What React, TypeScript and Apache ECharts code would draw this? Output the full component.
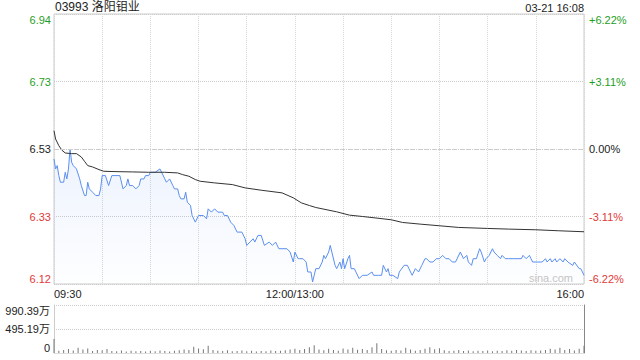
import React, { useEffect, useRef } from "react";
import * as echarts from "echarts";

const PREV_CLOSE = 6.53;
const PCT_LIMIT = 6.22;
const PCT_STEP = 3.11;
const VOL_MAX = 990.39;
const VOL_STEP = 495.195;
const TITLE = "03993 洛阳钼业";
const DATE_TEXT = "03-21 16:08";
const WATERMARK = "sina.com";
const volTickLabels = ["0", "495.19万", "990.39万"];
const timeTicks: Record<number, string> = { 0: "09:30", 150: "12:00/13:00", 330: "16:00" };

const priceMinutes = [
  0, 1, 2, 3, 4, 6, 7, 8, 9, 10, 11, 12, 14, 16, 17, 19, 20, 21, 22, 24, 26, 28, 29, 30, 32, 34, 36, 38, 41, 43,
  45, 46, 47, 49, 51, 53, 54, 56, 57, 59, 60, 63, 66, 67, 69, 70, 72, 74, 75, 77, 78, 79, 81, 82, 83, 85, 86, 88,
  90, 93, 95, 96, 98, 100, 102, 105, 106, 108, 110, 112, 114, 117, 119, 120, 122, 124, 125, 127, 129, 131, 134,
  136, 138, 140, 142, 145, 147, 149, 150, 152, 153, 155, 157, 158, 160, 161, 163, 165, 167, 168, 169, 171, 172,
  173, 175, 176, 178, 179, 180, 181, 183, 184, 185, 187, 188, 190, 192, 193, 195, 198, 199, 202, 204, 205, 207,
  208, 209, 211, 214, 215, 218, 220, 221, 223, 225, 227, 229, 231, 232, 234, 236, 238, 240, 242, 244, 246, 248,
  250, 253, 255, 257, 258, 260, 261, 263, 265, 266, 268, 269, 271, 273, 274, 276, 278, 279, 281, 283, 286, 291,
  292, 294, 296, 297, 298, 301, 304, 306, 307, 309, 310, 312, 313, 315, 317, 318, 320, 323, 324, 327, 328, 330,
];
const prices = [
  6.5, 6.47, 6.48, 6.45, 6.43, 6.43, 6.46, 6.44, 6.47, 6.53, 6.49, 6.48, 6.47, 6.44, 6.42, 6.39, 6.39, 6.43, 6.41,
  6.4, 6.39, 6.39, 6.41, 6.45, 6.45, 6.42, 6.45, 6.45, 6.45, 6.41, 6.42, 6.44, 6.42, 6.42, 6.41, 6.42, 6.44, 6.44,
  6.45, 6.45, 6.46, 6.46, 6.47, 6.46, 6.44, 6.43, 6.44, 6.42, 6.41, 6.41, 6.39, 6.38, 6.38, 6.4, 6.37, 6.36, 6.33,
  6.31, 6.33, 6.33, 6.32, 6.35, 6.34, 6.35, 6.34, 6.34, 6.33, 6.33, 6.31, 6.3, 6.28, 6.28, 6.26, 6.24, 6.25, 6.26,
  6.25, 6.27, 6.27, 6.24, 6.25, 6.24, 6.25, 6.23, 6.23, 6.23, 6.22, 6.19, 6.22, 6.2, 6.2, 6.2, 6.19, 6.16, 6.16,
  6.13, 6.17, 6.17, 6.19, 6.21, 6.2, 6.22, 6.24, 6.22, 6.18, 6.17, 6.19, 6.17, 6.2, 6.17, 6.2, 6.21, 6.17, 6.17,
  6.16, 6.14, 6.15, 6.15, 6.15, 6.16, 6.15, 6.15, 6.15, 6.18, 6.16, 6.17, 6.15, 6.15, 6.14, 6.16, 6.18, 6.18, 6.17,
  6.15, 6.17, 6.16, 6.18, 6.2, 6.2, 6.19, 6.19, 6.2, 6.2, 6.21, 6.2, 6.2, 6.19, 6.19, 6.22, 6.2, 6.21, 6.19, 6.18,
  6.2, 6.2, 6.23, 6.22, 6.19, 6.2, 6.21, 6.23, 6.22, 6.21, 6.2, 6.21, 6.2, 6.2, 6.2, 6.2, 6.21, 6.2, 6.21, 6.2,
  6.19, 6.19, 6.19, 6.2, 6.19, 6.2, 6.19, 6.2, 6.19, 6.2, 6.19, 6.2, 6.19, 6.18, 6.19, 6.17, 6.17, 6.15,
];

const avgMinutes = [
  0, 1, 3, 5, 7, 11, 14, 17, 19, 21, 24, 28, 31, 38, 49, 59, 69, 77, 80, 84, 88, 91, 100, 111, 119, 129, 142, 149,
  154, 159, 163, 170, 176, 184, 192, 203, 210, 217, 228, 240, 252, 270, 283, 300, 314, 330,
];
const avgPrices = [
  6.585, 6.56, 6.54, 6.526, 6.518, 6.516, 6.516, 6.506, 6.493, 6.48, 6.476, 6.468, 6.463, 6.462, 6.461, 6.46,
  6.46, 6.458, 6.453, 6.448, 6.438, 6.433, 6.428, 6.423, 6.413, 6.406, 6.398, 6.383, 6.368, 6.36, 6.354, 6.347,
  6.341, 6.331, 6.327, 6.321, 6.317, 6.309, 6.304, 6.299, 6.294, 6.291, 6.289, 6.287, 6.284, 6.281,
];

const volMinutes = [
  0, 3, 6, 9, 12, 15, 18, 21, 24, 27, 30, 33, 36, 39, 42, 45, 48, 51, 54, 57, 60, 63, 66, 69, 72, 75, 78, 81, 84,
  87, 90, 93, 96, 99, 102, 105, 108, 111, 114, 117, 120, 123, 126, 129, 132, 135, 138, 141, 144, 147, 150, 153,
  156, 159, 162, 165, 168, 171, 174, 177, 180, 183, 186, 189, 192, 195, 198, 201, 204, 207, 210, 213, 216, 219,
  222, 225, 228, 231, 234, 237, 240, 243, 246, 249, 252, 255, 258, 261, 264, 267, 270, 273, 276, 279, 282, 285,
  288, 291, 294, 297, 300, 303, 306, 309, 312, 315, 318, 321, 324, 327, 330,
];
const volumes = [
  290, 45, 60, 80, 50, 110, 70, 95, 40, 60, 55, 85, 40, 35, 50, 30, 45, 35, 40, 30, 45, 35, 50, 40, 30, 45, 55, 70,
  60, 130, 95, 75, 150, 60, 45, 40, 55, 35, 40, 50, 35, 45, 30, 40, 35, 50, 40, 45, 55, 70, 90, 60, 80, 120, 160,
  70, 55, 90, 60, 45, 95, 70, 110, 65, 80, 60, 120, 200, 80, 55, 45, 60, 50, 110, 70, 45, 60, 90, 120, 75, 100, 55,
  40, 45, 60, 40, 50, 35, 45, 40, 50, 35, 45, 40, 55, 45, 60, 50, 40, 55, 45, 50, 60, 90, 70, 110, 60, 80, 50, 90,
  150,
];

const FONT = "'Liberation Sans', Arial, 'Noto Sans CJK SC', sans-serif";
const GREEN = "#1f9e1f";
const RED = "#e23a3a";
const DARK = "#222";

const toPct = (p: number) => (p / PREV_CLOSE - 1) * 100;
const colorFor = (v: number) => (Math.abs(v) < 1e-6 ? DARK : v > 0 ? GREEN : RED);

export default function App() {
  const ref = useRef<HTMLDivElement>(null);

  useEffect(() => {
    if (!ref.current) return;
    const chart = echarts.init(ref.current, null, { renderer: "svg" });
    const option: any = {
      animation: false,
      textStyle: { fontFamily: FONT },
      graphic: [
        {
          type: "text",
          left: 55,
          top: 1,
          style: { text: TITLE, fontSize: 12, fill: DARK, fontFamily: FONT },
        },
        {
          type: "text",
          right: 56,
          top: 2,
          style: { text: DATE_TEXT, fontSize: 11, fill: DARK, fontFamily: FONT },
        },
        {
          type: "text",
          right: 67,
          top: 272,
          z: 100,
          style: { text: WATERMARK, fontSize: 11, fill: "#c4c4c4", fontFamily: FONT },
        },
      ],
      grid: [
        { left: 54, right: 56, top: 14, height: 270, show: true, borderColor: "#cccccc", borderWidth: 1 },
        { left: 54, right: 56, top: 305, height: 48 },
      ],
      xAxis: [
        {
          type: "value",
          gridIndex: 0,
          min: 0,
          max: 330,
          interval: 30,
          axisLine: { show: false },
          axisTick: { show: false },
          splitLine: { show: true, lineStyle: { color: "#d6d6d6", type: "dotted" } },
          axisLabel: {
            formatter: (v: number) => timeTicks[Math.round(v)] ?? "",
            color: DARK,
            fontSize: 11,
            margin: 4,
            showMinLabel: true,
            showMaxLabel: true,
            alignMinLabel: "left",
            alignMaxLabel: "right",
          },
        },
        {
          type: "value",
          gridIndex: 1,
          min: 0,
          max: 330,
          interval: 30,
          axisLine: { show: true, lineStyle: { color: "#dddddd" } },
          axisTick: { show: false },
          axisLabel: { show: false },
          splitLine: { show: false },
        },
      ],
      yAxis: [
        {
          type: "value",
          gridIndex: 0,
          position: "left",
          min: -PCT_LIMIT,
          max: PCT_LIMIT,
          interval: PCT_STEP,
          axisLine: { show: false },
          axisTick: { show: false },
          splitLine: { show: true, lineStyle: { color: "#cccccc", type: "dotted" } },
          axisLabel: {
            formatter: (v: number) => (PREV_CLOSE * (1 + v / 100)).toFixed(2),
            color: (v: any) => colorFor(Number(v)),
            fontSize: 11,
            margin: 3,
            verticalAlignMinLabel: "bottom",
            verticalAlignMaxLabel: "top",
          },
        },
        {
          type: "value",
          gridIndex: 0,
          position: "right",
          min: -PCT_LIMIT,
          max: PCT_LIMIT,
          interval: PCT_STEP,
          axisLine: { show: false },
          axisTick: { show: false },
          splitLine: { show: false },
          axisLabel: {
            formatter: (v: number) =>
              Math.abs(v) < 1e-6 ? "0.00%" : (v > 0 ? "+" : "") + v.toFixed(2) + "%",
            color: (v: any) => colorFor(Number(v)),
            fontSize: 11,
            margin: 5,
            verticalAlignMinLabel: "bottom",
            verticalAlignMaxLabel: "top",
          },
        },
        {
          type: "value",
          gridIndex: 1,
          position: "left",
          min: 0,
          max: VOL_MAX,
          interval: VOL_STEP,
          axisLine: { show: true, lineStyle: { color: "#cccccc" } },
          axisTick: { show: false },
          splitLine: { show: true, lineStyle: { color: "#cccccc", type: "dotted" } },
          axisLabel: {
            formatter: (_v: number, i: number) => volTickLabels[i] ?? "",
            color: DARK,
            fontSize: 11,
            margin: 4,
            verticalAlignMinLabel: "bottom",
            verticalAlignMaxLabel: "top",
          },
        },
        {
          type: "value",
          gridIndex: 1,
          position: "right",
          min: 0,
          max: VOL_MAX,
          interval: VOL_STEP,
          axisLine: { show: true, lineStyle: { color: "#888888" } },
          axisTick: { show: false },
          splitLine: { show: false },
          axisLabel: { show: false },
        },
      ],
      series: [
        {
          type: "line",
          xAxisIndex: 0,
          yAxisIndex: 0,
          data: priceMinutes.map((m, i) => [m, toPct(prices[i])]),
          showSymbol: false,
          symbol: "none",
          lineStyle: { color: "#5b8ff0", width: 1 },
          areaStyle: {
            origin: "start",
            color: new echarts.graphic.LinearGradient(0, 0, 0, 1, [
              { offset: 0, color: "rgba(91,143,240,0.16)" },
              { offset: 1, color: "rgba(91,143,240,0.01)" },
            ]),
          },
          markLine: {
            silent: true,
            symbol: "none",
            label: { show: false },
            lineStyle: { color: "#cccccc", type: [4, 3], width: 1 },
            data: [{ yAxis: 0 }],
          },
          z: 3,
        },
        {
          type: "line",
          xAxisIndex: 0,
          yAxisIndex: 0,
          data: avgMinutes.map((m, i) => [m, toPct(avgPrices[i])]),
          showSymbol: false,
          symbol: "none",
          lineStyle: { color: "#333333", width: 1 },
          z: 4,
        },
        {
          type: "bar",
          xAxisIndex: 1,
          yAxisIndex: 2,
          barWidth: 1,
          data: volMinutes.map((m, i) => [m, volumes[i]]),
          itemStyle: { color: "#777777" },
        },
      ],
    };
    chart.setOption(option);
    return () => chart.dispose();
  }, []);

  return (
    <div
      ref={ref}
      style={{ position: "fixed", left: 0, top: 0, width: 640, height: 360, background: "#fff" }}
    />
  );
}
